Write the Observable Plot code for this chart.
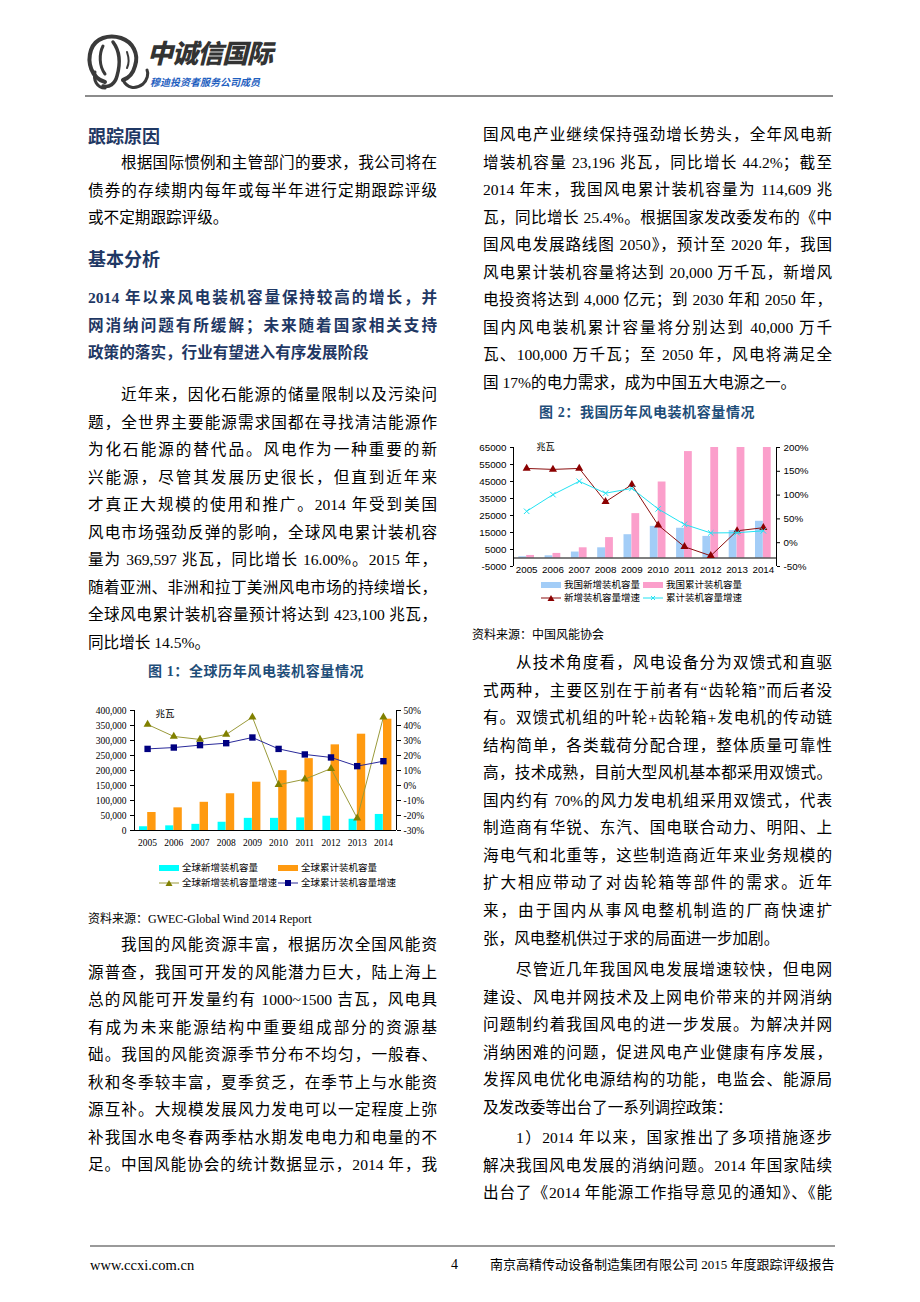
<!DOCTYPE html>
<html>
<head>
<meta charset="utf-8">
<script src="https://cdn.jsdelivr.net/npm/d3@7"></script>
<script src="https://cdn.jsdelivr.net/npm/@observablehq/plot@0.6"></script>
<style>
  html, body { margin: 0; padding: 0; background: #fff; }
  #page { position: relative; width: 920px; height: 1302px; overflow: hidden; background: #fff;
    font-family: "Liberation Serif", "Noto Sans CJK SC", serif; color: #000; }
  .ln { position: absolute; height: 28px; line-height: 28px; font-size: 15.6px; white-space: nowrap; }
  .h { font-family: "Noto Sans CJK SC", sans-serif; font-weight: 700; font-size: 18px; color: #1f3864; }
  .sub { font-family: "Liberation Serif", "Noto Sans CJK SC", serif; font-weight: 700; color: #1f3864; }
  .cap { position: absolute; font-size: 14px; font-weight: 700; color: #1f4e79; line-height: 20px; white-space: nowrap;
    font-family: "Liberation Serif", "Noto Sans CJK SC", serif; letter-spacing: 0.6px; }
  .src { position: absolute; font-size: 12px; line-height: 16px; white-space: nowrap; }
  .chart { position: absolute; }
  .leg { position: absolute; font-size: 9.5px; line-height: 12px; white-space: nowrap; }
  .leg svg { position: absolute; }
  .leg span { position: absolute; }
</style>
</head>
<body>
<div id="page"></div>
<script>
// ---------------- DATA ----------------
const years = [2005, 2006, 2007, 2008, 2009, 2010, 2011, 2012, 2013, 2014];

// Figure 1: global (MW, %)
const globalNew = [12500, 15500, 20500, 27500, 40500, 40500, 42000, 47500, 37500, 53500];
const globalCum = [60000, 75500, 94000, 122500, 161000, 199500, 239500, 285500, 321000, 371000];
const globalNewGrowth = [40.7, 32.7, 30.7, 34.0, 45.6, 0.5, 4.2, 11.3, -21.8, 45.6];
const globalCumGrowth = [24.4, 25.3, 26.9, 28.2, 32.0, 24.4, 20.7, 18.7, 12.9, 16.2];
const g1LeftTicks = [0, 50000, 100000, 150000, 200000, 250000, 300000, 350000, 400000];
const g1RightTicks = [-30, -20, -10, 0, 10, 20, 30, 40, 50];
const g1Legend = ["全球新增装机容量", "全球累计装机容量", "全球新增装机容量增速", "全球累计装机容量增速"];

// Figure 2: China (MW, %)
const cnNew = [700, 1300, 3500, 6000, 13700, 18600, 17500, 12700, 16100, 21600];
const cnCum = [1500, 2700, 6000, 12000, 26100, 44700, 62600, 75324, 91412, 114609];
const cnNewGrowth = [156, 154, 156, 86, 122, 37, -8.5, -27.5, 25, 31.5];
const cnCumGrowth = [66, 101, 129, 104, 114, 71, 38.5, 20.5, 21, 25];
const c2LeftTicks = [-5000, 5000, 15000, 25000, 35000, 45000, 55000, 65000];
const c2RightTicks = [-50, 0, 50, 100, 150, 200];
const c2Legend = ["我国新增装机容量", "我国累计装机容量", "新增装机容量增速", "累计装机容量增速"];
const unitLabel = "兆瓦";

// ---------------- TEXT ----------------
const leftCol = [
  {kind: "h", y: 135, lines: ["跟踪原因"]},
  {kind: "p", y: 163, indent: true, lines: [
    "根据国际惯例和主管部门的要求，我公司将在",
    "债券的存续期内每年或每半年进行定期跟踪评级",
    "或不定期跟踪评级。"]},
  {kind: "h", y: 258, lines: ["基本分析"]},
  {kind: "sub", y: 298, lines: [
    "2014 年以来风电装机容量保持较高的增长，并",
    "网消纳问题有所缓解；未来随着国家相关支持",
    "政策的落实，行业有望进入有序发展阶段"]},
  {kind: "p", y: 395, indent: true, lines: [
    "近年来，因化石能源的储量限制以及污染问",
    "题，全世界主要能源需求国都在寻找清洁能源作",
    "为化石能源的替代品。风电作为一种重要的新",
    "兴能源，尽管其发展历史很长，但直到近年来",
    "才真正大规模的使用和推广。2014 年受到美国",
    "风电市场强劲反弹的影响，全球风电累计装机容",
    "量为 369,597 兆瓦，同比增长 16.00%。2015 年，",
    "随着亚洲、非洲和拉丁美洲风电市场的持续增长，",
    "全球风电累计装机容量预计将达到 423,100 兆瓦，",
    "同比增长 14.5%。"]},
  {kind: "p", y: 945, indent: true, cont: true, lines: [
    "我国的风能资源丰富，根据历次全国风能资",
    "源普查，我国可开发的风能潜力巨大，陆上海上",
    "总的风能可开发量约有 1000~1500 吉瓦，风电具",
    "有成为未来能源结构中重要组成部分的资源基",
    "础。我国的风能资源季节分布不均匀，一般春、",
    "秋和冬季较丰富，夏季贫乏，在季节上与水能资",
    "源互补。大规模发展风力发电可以一定程度上弥",
    "补我国水电冬春两季枯水期发电电力和电量的不",
    "足。中国风能协会的统计数据显示，2014 年，我"]}
];
const rightCol = [
  {kind: "p", y: 135, lines: [
    "国风电产业继续保持强劲增长势头，全年风电新",
    "增装机容量 23,196 兆瓦，同比增长 44.2%；截至",
    "2014 年末，我国风电累计装机容量为 114,609 兆",
    "瓦，同比增长 25.4%。根据国家发改委发布的《中",
    "国风电发展路线图 2050》，预计至 2020 年，我国",
    "风电累计装机容量将达到 20,000 万千瓦，新增风",
    "电投资将达到 4,000 亿元；到 2030 年和 2050 年，",
    "国内风电装机累计容量将分别达到 40,000 万千",
    "瓦、100,000 万千瓦；至 2050 年，风电将满足全",
    "国 17%的电力需求，成为中国五大电源之一。"]},
  {kind: "p", y: 663, indent: true, lines: [
    "从技术角度看，风电设备分为双馈式和直驱",
    "式两种，主要区别在于前者有“齿轮箱”而后者没",
    "有。双馈式机组的叶轮+齿轮箱+发电机的传动链",
    "结构简单，各类载荷分配合理，整体质量可靠性",
    "高，技术成熟，目前大型风机基本都采用双馈式。",
    "国内约有 70%的风力发电机组采用双馈式，代表",
    "制造商有华锐、东汽、国电联合动力、明阳、上",
    "海电气和北重等，这些制造商近年来业务规模的",
    "扩大相应带动了对齿轮箱等部件的需求。近年",
    "来，由于国内从事风电整机制造的厂商快速扩",
    "张，风电整机供过于求的局面进一步加剧。"]},
  {kind: "p", y: 970, indent: true, lines: [
    "尽管近几年我国风电发展增速较快，但电网",
    "建设、风电并网技术及上网电价带来的并网消纳",
    "问题制约着我国风电的进一步发展。为解决并网",
    "消纳困难的问题，促进风电产业健康有序发展，",
    "发挥风电优化电源结构的功能，电监会、能源局",
    "及发改委等出台了一系列调控政策："]},
  {kind: "p", y: 1138, indent: true, cont: true, lines: [
    "1）2014 年以来，国家推出了多项措施逐步",
    "解决我国风电发展的消纳问题。2014 年国家陆续",
    "出台了《2014 年能源工作指导意见的通知》、《能"]}
];

const page = document.getElementById("page");
const PITCH = 27.55;

function el(tag, cls, styles, text) {
  const d = document.createElement(tag);
  if (cls) d.className = cls;
  Object.assign(d.style, styles || {});
  if (text != null) d.textContent = text;
  page.appendChild(d);
  return d;
}

const toJustify = [];
function renderColumn(blocks, x, w) {
  for (const b of blocks) {
    b.lines.forEach((t, i) => {
      const last = i === b.lines.length - 1;
      let cls = "ln";
      if (b.kind === "h") cls += " h";
      if (b.kind === "sub") cls += " sub";
      const justify = b.kind !== "h" && (!last || b.cont);
      const ind = (b.indent && i === 0) ? 33 : 0;
      const st = {left: (x + ind) + "px", top: (b.y + i * PITCH - 14) + "px"};
      const d = el("div", cls, st);
      const span = document.createElement("span");
      span.textContent = t;
      d.appendChild(span);
      if (justify) toJustify.push({div: d, span, w: w - ind});
    });
  }
}
renderColumn(leftCol, 88, 349);
renderColumn(rightCol, 483, 349);
function justifyAll() {
  for (const {div, span, w} of toJustify) {
    span.style.letterSpacing = "0px";
    div.style.whiteSpace = "nowrap"; div.style.width = ""; div.style.textAlign = ""; div.style.textAlignLast = "";
    const nat = span.getBoundingClientRect().width;
    if (nat <= w - 1) {
      div.style.width = w + "px";
      div.style.whiteSpace = "normal";
      div.style.textAlign = "justify";
      div.style.textAlignLast = "justify";
    } else {
      const n = [...span.textContent].length;
      span.style.letterSpacing = ((w - nat) / (n - 1)) + "px";
    }
  }
}
justifyAll();
if (document.fonts && document.fonts.ready) document.fonts.ready.then(justifyAll);

// header
const hdr = document.createElementNS("http://www.w3.org/2000/svg", "svg");
hdr.setAttribute("width", 70); hdr.setAttribute("height", 60);
hdr.style.position = "absolute"; hdr.style.left = "83px"; hdr.style.top = "32px";
hdr.innerHTML = `
 <g fill="none" stroke="#3a3a3a" stroke-linecap="round">
  <path d="M22 50 C8 46 4 30 8 18 C12 6 26 2 38 6 C50 10 56 22 52 34 C50 42 46 46 40 48" stroke-width="4"/>
  <path d="M20 14 C16 22 16 34 22 42" stroke-width="3"/>
  <path d="M30 10 C36 18 38 30 34 44 C32 52 26 56 20 54" stroke-width="3.5"/>
  <path d="M40 48 C44 56 52 58 60 52 C64 48 66 42 64 38" stroke-width="3"/>
  <path d="M12 40 C10 48 14 56 22 56" stroke-width="3"/>
  <path d="M44 20 C46 26 46 32 44 36" stroke-width="2"/>
 </g>`;
page.appendChild(hdr);
el("div", null, {position: "absolute", left: "147px", top: "36px", fontFamily: '"Noto Sans CJK SC", sans-serif',
  fontWeight: "900", fontSize: "26px", lineHeight: "32px", color: "#333", letterSpacing: "-1px", fontStyle: "italic"}, "中诚信国际");
el("div", null, {position: "absolute", left: "150px", top: "76px", fontFamily: '"Noto Sans CJK SC", sans-serif',
  fontWeight: "700", fontSize: "10px", lineHeight: "12px", color: "#1f5fbf", fontStyle: "italic"}, "穆迪投资者服务公司成员");
el("div", null, {position: "absolute", left: "85px", top: "95px", width: "748px", height: "2px", background: "#8c8c8c"});

// footer
el("div", null, {position: "absolute", left: "90px", top: "1245px", width: "745px", height: "2px", background: "#9a9a9a"});
el("div", null, {position: "absolute", left: "90px", top: "1256px", fontSize: "14.5px", lineHeight: "18px"}, "www.ccxi.com.cn");
el("div", null, {position: "absolute", left: "451px", top: "1256px", fontSize: "14px", lineHeight: "18px"}, "4");
el("div", null, {position: "absolute", left: "490px", top: "1257px", fontSize: "13px", lineHeight: "16px", letterSpacing: "0px"},
  "南京高精传动设备制造集团有限公司 2015 年度跟踪评级报告");

// captions & sources
el("div", "cap", {left: "148px", top: "662px"}, "图 1：全球历年风电装机容量情况");
el("div", "cap", {left: "539px", top: "403px"}, "图 2：我国历年风电装机容量情况");
el("div", "src", {left: "88px", top: "911px"}, "资料来源：GWEC-Global Wind 2014 Report");
el("div", "src", {left: "472px", top: "627px"}, "资料来源：中国风能协会");

// ---------------- CHART 1 ----------------
const g = years.map((year, i) => ({year, newCap: globalNew[i], cumCap: globalCum[i],
  newG: globalNewGrowth[i], cumG: globalCumGrowth[i]}));
const y1Dom = [0, 400000], r1Dom = [-30, 50];
const toL1 = p => y1Dom[0] + (p - r1Dom[0]) / (r1Dom[1] - r1Dom[0]) * (y1Dom[1] - y1Dom[0]);
const fromL1 = v => r1Dom[0] + (v - y1Dom[0]) / (y1Dom[1] - y1Dom[0]) * (r1Dom[1] - r1Dom[0]);
const xDom = [years[0] - 0.5, years[years.length - 1] + 0.5];

const chart1 = Plot.plot({
  width: 345, height: 160,
  marginLeft: 44, marginRight: 39, marginTop: 15, marginBottom: 25,
  style: {fontFamily: '"Liberation Serif","Noto Sans CJK SC",serif', fontSize: "9.5px", color: "#000", background: "transparent", overflow: "visible"},
  x: {type: "linear", domain: xDom, label: null},
  y: {domain: y1Dom, label: null},
  marks: [
    Plot.rectY(g, {x1: d => d.year - 0.5, x2: d => d.year + 0.5, y: "newCap", fill: "#00ffff", insetLeft: 5, insetRight: 13.2}),
    Plot.rectY(g, {x1: d => d.year - 0.5, x2: d => d.year + 0.5, y: "cumCap", fill: "#ff9a10", insetLeft: 13.2, insetRight: 4.6}),
    Plot.line(g, {x: "year", y: d => toL1(d.newG), stroke: "#9a9a3a", strokeWidth: 1}),
    Plot.dot(g, {x: "year", y: d => toL1(d.newG), symbol: "triangle", fill: "#808000", r: 3}),
    Plot.line(g, {x: "year", y: d => toL1(d.cumG), stroke: "#2a2a9a", strokeWidth: 1}),
    Plot.dot(g, {x: "year", y: d => toL1(d.cumG), symbol: "square", fill: "#000080", r: 3.6}),
    Plot.ruleY([y1Dom[0]], {stroke: "#000"}),
    Plot.ruleX(xDom, {stroke: "#000"}),
    Plot.axisX(years, {tickFormat: "d", tickSize: 0, tickPadding: 9, label: null}),
    Plot.axisY(g1LeftTicks, {anchor: "left", tickFormat: d3.format(","), tickSize: 4, tickPadding: 4, label: null}),
    Plot.axisY(g1RightTicks.map(toL1), {anchor: "right", tickFormat: v => Math.round(fromL1(v)) + "%", tickSize: 4, tickPadding: 3, label: null}),
    Plot.text([unitLabel], {frameAnchor: "top-left", dx: 21, dy: 0, fontSize: 9.5, fill: "#000"})
  ]
});
const c1 = el("div", "chart", {left: "90px", top: "695px"});
c1.appendChild(chart1);

// ---------------- CHART 2 ----------------
const c = years.map((year, i) => ({year, newCap: cnNew[i], cumCap: cnCum[i], newG: cnNewGrowth[i], cumG: cnCumGrowth[i]}));
const y2Dom = [-5000, 65000], r2Dom = [-50, 200];
const toL2 = p => y2Dom[0] + (p - r2Dom[0]) / (r2Dom[1] - r2Dom[0]) * (y2Dom[1] - y2Dom[0]);
const fromL2 = v => r2Dom[0] + (v - y2Dom[0]) / (y2Dom[1] - y2Dom[0]) * (r2Dom[1] - r2Dom[0]);

const chart2 = Plot.plot({
  width: 341, height: 143,
  marginLeft: 38, marginRight: 40, marginTop: 12, marginBottom: 12,
  style: {fontFamily: '"Liberation Sans","Noto Sans CJK SC",sans-serif', fontSize: "9.8px", color: "#000", background: "transparent", overflow: "visible"},
  x: {type: "linear", domain: xDom, label: null},
  y: {domain: y2Dom, label: null},
  marks: [
    Plot.rectY(c, {x1: d => d.year - 0.5, x2: d => d.year + 0.5, y1: 0, y2: "newCap", fill: "#a3cdf7", insetLeft: 5.3, insetRight: 13.2, clip: true}),
    Plot.rectY(c, {x1: d => d.year - 0.5, x2: d => d.year + 0.5, y1: 0, y2: "cumCap", fill: "#fb9fcb", insetLeft: 13.2, insetRight: 5.3, clip: true}),
    Plot.ruleY([0], {stroke: "#000"}),
    Plot.ruleX(xDom, {stroke: "#000"}),
    Plot.line(c, {x: "year", y: d => toL2(d.newG), stroke: "#8b0f0f", strokeWidth: 1}),
    Plot.dot(c, {x: "year", y: d => toL2(d.newG), symbol: "triangle", fill: "#8b0000", r: 3}),
    Plot.line(c, {x: "year", y: d => toL2(d.cumG), stroke: "#22e2f2", strokeWidth: 1}),
    Plot.dot(c, {x: "year", y: d => toL2(d.cumG), symbol: "times", stroke: "#22e2f2", r: 2.6, strokeWidth: 1}),
    Plot.axisX(years, {tickFormat: "d", tickSize: 0, tickPadding: 0, label: null}),
    Plot.axisY(c2LeftTicks, {anchor: "left", tickFormat: d => String(d), tickSize: 3, tickPadding: 4, label: null}),
    Plot.axisY(c2RightTicks.map(toL2), {anchor: "right", tickFormat: v => Math.round(fromL2(v)) + "%", tickSize: 3, tickPadding: 4, label: null}),
    Plot.text([unitLabel], {frameAnchor: "top-left", dx: 23, dy: -4, fontSize: 9, fill: "#000"})
  ]
});
const c2 = el("div", "chart", {left: "475px", top: "435px"});
c2.appendChild(chart2);

// ---------------- LEGENDS ----------------
function legend(x0, y0, items, colW, rowH, fontFamily) {
  const box = el("div", "leg", {left: x0 + "px", top: y0 + "px", width: "300px", height: "40px", fontFamily});
  items.forEach((it, i) => {
    const col = i % 2, row = Math.floor(i / 2);
    const sx = col * colW, sy = row * rowH;
    const s = document.createElementNS("http://www.w3.org/2000/svg", "svg");
    s.setAttribute("width", 22); s.setAttribute("height", 10);
    s.style.left = sx + "px"; s.style.top = (sy + 1) + "px";
    if (it.type === "rect") {
      s.innerHTML = `<rect x="0" y="2" width="20" height="6" fill="${it.color}"/>`;
    } else {
      let m = "";
      if (it.symbol === "triangle") m = `<path d="M10 2 L13.5 8 L6.5 8 Z" fill="${it.mark}"/>`;
      if (it.symbol === "square") m = `<rect x="7" y="2" width="6" height="6" fill="${it.mark}"/>`;
      if (it.symbol === "times") m = `<path d="M8 3 L12 7 M12 3 L8 7" stroke="${it.mark}" stroke-width="1"/>`;
      s.innerHTML = `<line x1="0" y1="5" x2="20" y2="5" stroke="${it.color}" stroke-width="1"/>${m}`;
    }
    box.appendChild(s);
    const t = document.createElement("span");
    t.textContent = it.label;
    t.style.left = (sx + 23) + "px"; t.style.top = sy + "px";
    box.appendChild(t);
  });
}
legend(159, 862, [
  {type: "rect", color: "#00ffff", label: g1Legend[0]},
  {type: "rect", color: "#ff9a10", label: g1Legend[1]},
  {type: "line", color: "#9a9a3a", mark: "#808000", symbol: "triangle", label: g1Legend[2]},
  {type: "line", color: "#2a2a9a", mark: "#000080", symbol: "square", label: g1Legend[3]}
], 119, 14.5, '"Liberation Serif","Noto Sans CJK SC",serif');
legend(541, 579, [
  {type: "rect", color: "#a3cdf7", label: c2Legend[0]},
  {type: "rect", color: "#fb9fcb", label: c2Legend[1]},
  {type: "line", color: "#8b0f0f", mark: "#8b0000", symbol: "triangle", label: c2Legend[2]},
  {type: "line", color: "#22e2f2", mark: "#22e2f2", symbol: "times", label: c2Legend[3]}
], 102, 13, '"Liberation Sans","Noto Sans CJK SC",sans-serif');
</script>
</body>
</html>
